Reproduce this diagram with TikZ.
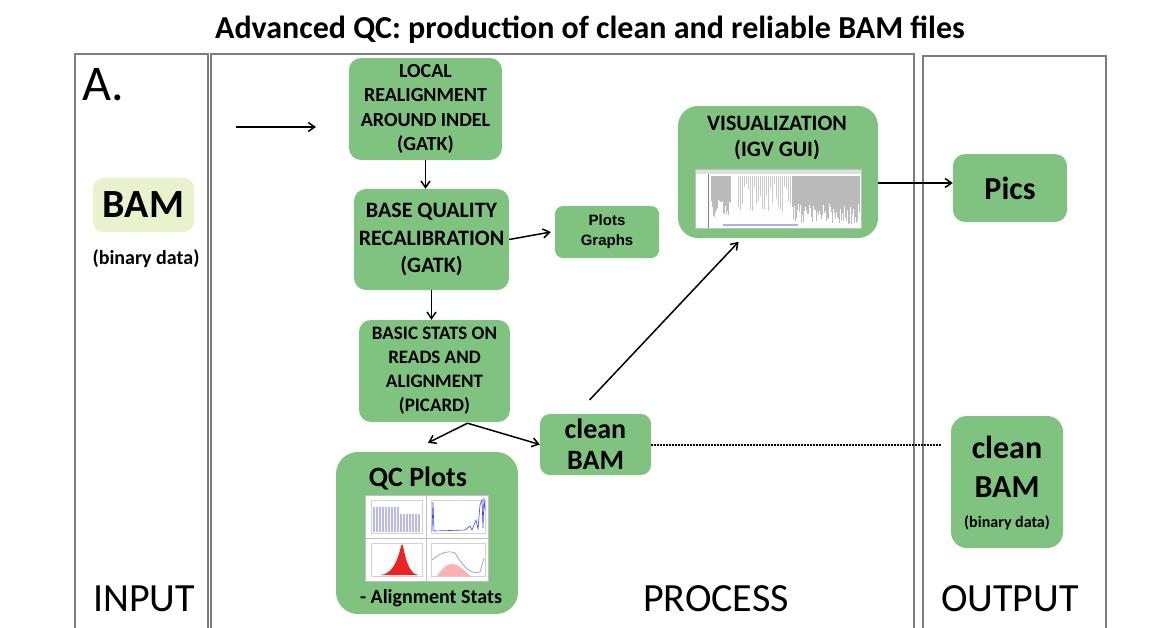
\documentclass[tikz,border=0pt]{standalone}
\usepackage{fontspec}
\setmainfont{Carlito}
\newfontfamily\plotsfont{Liberation Sans}
\usetikzlibrary{arrows.meta,calc,positioning}

\definecolor{boxgreen}{RGB}{128,194,127}
\definecolor{bamlight}{RGB}{232,243,205}
\definecolor{panelgrey}{RGB}{125,125,125}
\definecolor{shotgrey}{RGB}{165,165,165}
\definecolor{shotblue}{RGB}{120,120,225}
\definecolor{barlav}{RGB}{185,185,230}
\definecolor{plotred}{RGB}{235,35,35}

\begin{document}
\begin{tikzpicture}
[x=1pt, y=-1pt,
    every node/.style={align=center, inner sep=0pt},
    box/.style={fill=boxgreen, rounded corners=12pt},
    panel/.style={draw=panelgrey, line width=1.1pt},
    flow/.style={-{Straight Barb[length=6.5pt,width=9pt]}, line width=1.5pt},
    bigword/.style={font=\fontsize{40}{48}\selectfont, anchor=base}]

\useasboundingbox (0,0) rectangle (1166,627);

% panels
\draw[panel] (75,630) |- (208,54) -- (208,630);
\draw[panel] (211,630) |- (914,54) -- (914,630);
\draw[panel] (923,630) |- (1106,56) -- (1106,630);

\node[font=\bfseries\fontsize{32}{38}\selectfont, anchor=base] (title) at (590,38) {Advanced QC: production of clean and reliable BAM files};
\node[font=\fontsize{50}{58}\selectfont, anchor=base west] (panelA) at (82,100) {A.};
\node[bigword] (input) at (144,611) {INPUT};
\node[bigword] (process) at (716,611) {PROCESS};
\node[bigword] (output) at (1010,611) {OUTPUT};

% input
\node[fill=bamlight, rounded corners=10pt, minimum width=101pt, minimum height=54pt,
      font=\bfseries\fontsize{40}{46}\selectfont] (bam) at (143.5,205) {BAM};
\node[font=\bfseries\fontsize{20}{24}\selectfont, anchor=base] (bamnote) at (146,264) {(binary data)};

% process
\node[box, minimum width=153pt, minimum height=102pt, font=\bfseries\fontsize{20}{24.5}\selectfont]
    (local) at (425.5,109) {LOCAL\\REALIGNMENT\\AROUND INDEL\\(GATK)};
\node[box, minimum width=155pt, minimum height=101pt, font=\bfseries\fontsize{22}{27.5}\selectfont]
    (base) at (431.5,239.5) {BASE QUALITY\\RECALIBRATION\\(GATK)};
\node[box, minimum width=104pt, minimum height=52pt, rounded corners=8pt,
      font=\plotsfont\bfseries\fontsize{15}{20}\selectfont] (plots) at (607,232) {Plots\\Graphs};
\node[box, minimum width=151pt, minimum height=102pt, font=\bfseries\fontsize{19}{24}\selectfont]
    (basic) at (434.5,371) {BASIC STATS ON\\READS AND\\ALIGNMENT\\(PICARD)};
\node[box, minimum width=111pt, minimum height=61pt, rounded corners=10pt,
      font=\bfseries\fontsize{28}{31}\selectfont] (clean) at (595.5,444.5) {clean\\BAM};

\node[box, minimum width=182pt, minimum height=162pt, rounded corners=22pt] (qc) at (427,533) {};
\node[font=\bfseries\fontsize{28}{34}\selectfont, anchor=base] (qctitle) at (418,486) {QC Plots};
\node[font=\bfseries\fontsize{20}{24}\selectfont, anchor=base] (qcnote) at (431,603) {- Alignment Stats};

% qc plots thumbnail
\fill[white] (365,495) rectangle (488,581);
\draw[shotgrey!70, line width=0.4pt] (365,495) rectangle (488,581) (426,495) -- (426,581) (365,538) -- (488,538);
\draw[shotgrey!50, line width=0.3pt] (371,500) rectangle (422,533) (431,500) rectangle (485,533)
    (371,543) rectangle (422,576) (431,543) rectangle (485,576);
\foreach \xx in {373,376,...,397} \fill[barlav] (\xx,507) rectangle ++(2,25);
\foreach \xx in {400,403,...,418} \fill[barlav] (\xx,514) rectangle ++(2,18);
\draw[blue!75, line width=0.6pt] (432,531) -- (433,502) -- (434,531) -- (465,530) -- (470,526) -- (472,530)
    -- (476,520) -- (478,529) -- (480,505) -- (482,500) -- (483,528) -- (484,498) -- (485,510);
\fill[plotred] (380,575) .. controls (398,574) and (400,545) .. (402,544)
    .. controls (404,545) and (406,574) .. (418,575) -- cycle;
\fill[plotred!35] (437,576) .. controls (448,560) and (455,560) .. (470,576) -- cycle;
\draw[blue!55, line width=0.5pt] (432,560) .. controls (440,553) and (448,550) .. (455,553)
    .. controls (462,565) and (470,575) .. (480,572) -- (484,558);

\node[box, minimum width=200pt, minimum height=132pt, rounded corners=20pt] (vis) at (778,172) {};
\node[font=\bfseries\fontsize{22}{26}\selectfont, anchor=north] (vistitle) at (777,116) {VISUALIZATION\\(IGV GUI)};

% igv screenshot
\pgfmathsetseed{7}
\fill[white] (695,169) rectangle (861,228);
\fill[shotgrey!35] (695,169) rectangle (861,174);
\draw[shotgrey!70, line width=0.4pt] (695,169) rectangle (861,228);
\foreach \xx in {711,712,...,730} \draw[shotgrey!75, line width=0.6pt] (\xx,176) -- (\xx,{198+20*rnd});
\foreach \xx in {738,740,...,790} \draw[shotgrey!60, line width=0.5pt] (\xx,176) -- (\xx,{182+30*rnd});
\foreach \xx in {792,793,...,859} \draw[shotgrey!75, line width=0.6pt] (\xx,176) -- (\xx,{204+20*rnd});
\draw[shotblue, line width=1pt] (708,174) -- (708,228);
\draw[shotblue!60, line width=1.5pt] (723,225) -- (798,225);

% output
\node[box, minimum width=114pt, minimum height=68pt, font=\bfseries\fontsize{32}{38}\selectfont]
    (pics) at (1010,188) {Pics};
\node[box, minimum width=112pt, minimum height=132pt, rounded corners=16pt] (outclean) at (1007,482) {};
\node[font=\bfseries\fontsize{32}{39}\selectfont, anchor=base] (outtext) at (1007,497) {clean\\BAM};
\node[font=\bfseries\fontsize{16}{20}\selectfont, anchor=base] (outnote) at (1007,527) {(binary data)};

% connectors
\coordinate (startL) at (236,127);
\coordinate (startR) at (316,127);
\coordinate (visout) at ($(vis.east)+(0,11)$);
\draw[flow] (startL) -- (startR);
\draw[flow] (local.south) -- (local.south |- base.north);
\draw[flow] (base.east) -- ($(plots.west)+(-4,0)$);
\draw[flow] (base.south) -- (base.south |- basic.north);
\coordinate (fork) at ($(basic.south)+(33,1)$);
\draw[flow] (fork) -- ($(qc.north)+(1,-9)$);
\draw[flow] (fork) -- (clean.west);
\draw[flow, shorten <=19pt, shorten >=5pt] ($(clean.north)+(-19,0)$) -- ($(vis.south)+(-36,0)$);
\draw[flow] (visout) -- (visout -| pics.west);
\draw[line width=2pt, dash pattern=on 1.5pt off 1.5pt] (clean.east) -- ($(outclean.west |- clean.east)+(-9,0)$);
\end{tikzpicture}
\end{document}
